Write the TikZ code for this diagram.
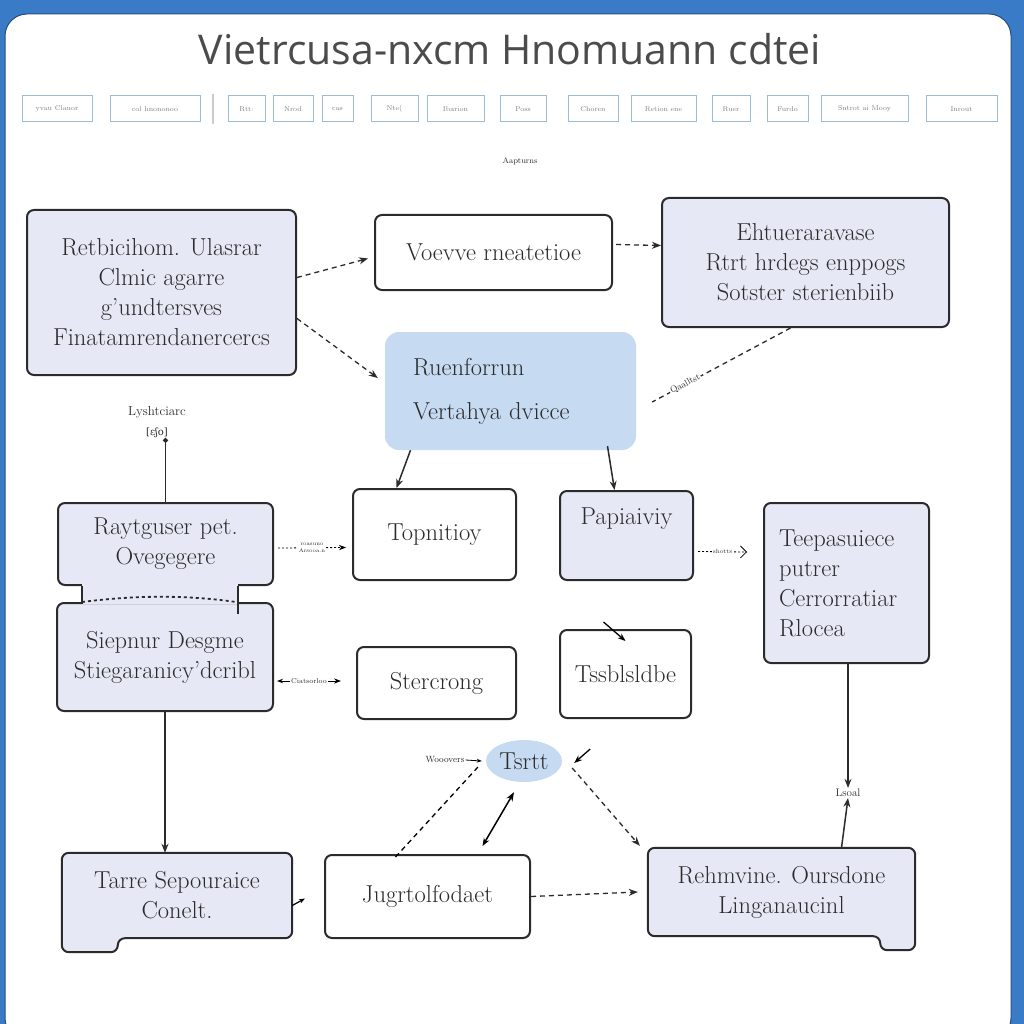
\documentclass[tikz,border=0pt]{standalone}
\usepackage{fontspec}
\newfontfamily\titlefont{Open Sans}
\newfontfamily\ipafont{DejaVu Serif}
\usetikzlibrary{arrows.meta,positioning,shapes.geometric,backgrounds}
\definecolor{frameblue}{HTML}{3A7BC8}
\definecolor{lav}{HTML}{E6E9F5}
\definecolor{paleblue}{HTML}{C6DAF1}
\definecolor{ink}{HTML}{2B2B2B}
\definecolor{toolline}{HTML}{9DBBD2}

\begin{document}
\begin{tikzpicture}[
    x=1pt, y=-1pt,
    every node/.style={font=\fontsize{24.5}{30}\selectfont, text=ink},
    box/.style={draw=ink, line width=2pt, rounded corners=7pt, align=center, fill=lav, inner sep=0pt},
    plain/.style={box, fill=white},
    soft/.style={fill=paleblue, rounded corners=14pt, inner sep=0pt},
    tabbox/.style={draw=ink, line width=2pt, fill=lav, rounded corners=7pt},
    tool/.style={draw=toolline, line width=1pt, inner sep=0pt, minimum height=26pt, font=\fontsize{7}{8}\selectfont, text=gray},
    tiny/.style={font=\fontsize{7}{8}\selectfont, inner sep=1pt, fill=white},
    flow/.style={-{Stealth[length=9pt,width=7pt]}, line width=1.5pt, draw=ink},
    feedback/.style={-{Stealth[length=9pt,width=7pt]}, line width=1.3pt, dash pattern=on 5pt off 4pt, draw=ink}
]
\useasboundingbox (0,0) rectangle (1024,1024);

% title and toolbar
\node[font=\titlefont\fontsize{41}{48}\selectfont, text=ink!85] (title) at (510,49) {Vietrcusa-nxcm Hnomuann cdtei};
\foreach \xa/\xb/\lbl in {22/92/yvau Clauor, 110/200/col hnononoo, 228/265/Rtt:, 273/313/Nrod, 322/353/cas,
    371/418/Nte(, 427/484/Ibarion, 500/546/Poss, 568/618/Choren, 631/696/Retion ene, 712/750/Ruer,
    767/808/Furdo, 821/908/Sntrot ai Mooy, 926/997/Inrout}
  \node[tool, minimum width={\xb-\xa}, name=tb\xa] at ({(\xa+\xb)/2},109) {\lbl};
\node[tiny, font=\fontsize{8}{9}\selectfont] (aap) at (520,161) {Aapturns};

% boxes
\node[box, minimum width=269pt, minimum height=165pt] (retbic) at (161.5,292.5) {Retbicihom. Ulasrar\\Clmic agarre\\g'undtersves\\Finatamrendanercercs};
\node[plain, minimum width=237pt, minimum height=75pt] (voevve) at (493.5,252.5) {Voevve rneatetioe};
\node[box, minimum width=287pt, minimum height=129pt] (ehtuer) at (805.5,262.5) {Ehtueraravase\\Rtrt hrdegs enppogs\\Sotster sterienbiib};
\node[soft, minimum width=251pt, minimum height=118pt, align=left, text width=195pt] (ruen) at (510.5,391) {Ruenforrun\\[14pt]Vertahya dvicce};
\node[font=\fontsize{13}{20}\selectfont, align=center, inner sep=0pt] (lysh) at (157,422) {Lyshtciarc\\{\ipafont\fontsize{10}{12}\selectfont[ɛʃo]}};

\node[box, minimum width=215pt, minimum height=82pt] (rayt) at (165.5,544) {Raytguser pet.\\Ovegegere};
\node[box, minimum width=216pt, minimum height=108pt] (siepnur) at (165,657) {Siepnur Desgme\\Stiegaranicy'dcribl};
\node[plain, minimum width=163pt, minimum height=91pt] (topni) at (434.5,534.5) {Topnitioy};
\node[box, minimum width=133pt, minimum height=89pt] (papia) at (626.5,535.5) {Papiaiviy\\[8pt]};
\node[box, minimum width=165pt, minimum height=160pt, align=left, text width=135pt] (teepa) at (846.5,583) {Teepasuiece\\putrer\\Cerrorratiar\\Rlocea};
\node[plain, minimum width=159pt, minimum height=72pt] (sterc) at (436.5,683) {Stercrong};
\node[plain, minimum width=131pt, minimum height=88pt] (tssbl) at (625.5,674) {Tssblsldbe};

\node[ellipse, fill=paleblue, minimum width=76pt, minimum height=42pt, inner sep=0pt] (tsrtt) at (524,761) {Tsrtt};
\node[tiny, font=\fontsize{9}{10}\selectfont] (woo) at (445,760) {Wooovers};
\node[tiny, font=\fontsize{11}{12}\selectfont] (lsoal) at (848,793) {Lsoal};

\node[minimum width=230pt, minimum height=85pt, align=center, inner sep=0pt] (tarre) at (177,895.5) {Tarre Sepouraice\\Conelt.};
\node[plain, minimum width=205pt, minimum height=83pt] (jugrt) at (427.5,896.5) {Jugrtolfodaet};
\node[minimum width=267pt, minimum height=88pt, align=center, inner sep=0pt] (rehm) at (781.5,892) {Rehmvine. Oursdone\\Linganaucinl};

% neck between the two joined boxes
\fill[lav] ([xshift=25,yshift=2]rayt.south west) rectangle ([xshift=-36,yshift=-2]siepnur.north east);
\draw[line width=2pt, draw=ink] ([xshift=25]rayt.south west) -- ++(0,18);
\draw[line width=2pt, draw=ink] ([xshift=-36]rayt.south east) -- ++(0,28);
\draw[line width=1.8pt, draw=ink, dashed] ([xshift=25,yshift=-16]rayt.south west) .. controls ([xshift=80,yshift=-9]rayt.south west) and ([xshift=130,yshift=-9]rayt.south west) .. ([xshift=-38,yshift=-16]rayt.south east);

% connectors
\draw[feedback] ([yshift=15]retbic.east) -- ([xshift=-6,yshift=-6]voevve.west);
\draw[feedback] ([yshift=-26]retbic.east) -- ([xshift=-7,yshift=13]ruen.west);
\draw[feedback] ([xshift=3,yshift=8]voevve.east) -- ([yshift=17]ehtuer.west);
\draw[line width=1.3pt, dash pattern=on 5pt off 4pt, draw=ink] ([xshift=-15]ehtuer.south) -- node[pos=0.76, sloped, tiny, font=\fontsize{9}{10}\selectfont] {Qaalltst} ([xshift=16,yshift=-11]ruen.east);
\draw[flow] ([xshift=-100]ruen.south) -- ([xshift=-38]topni.north);
\draw[flow] ([xshift=97,yshift=4]ruen.south) -- ([xshift=-12]papia.north);
\draw[line width=1.5pt, draw=ink, -{Circle[length=5pt]}] (rayt.north) -- (rayt.north |- lysh.south);
\draw[line width=0.8pt, dash pattern=on 2pt off 2pt, -{Stealth[length=7pt]}] ([xshift=4,yshift=-4]rayt.east) -- node[tiny, align=center, font=\fontsize{5.5}{6.5}\selectfont] {roasuno\\Arsooa.n} ([xshift=-6,yshift=-13]topni.west);
\draw[line width=0.8pt, dash pattern=on 2pt off 2pt, -{Straight Barb[length=6pt]}] ([xshift=4,yshift=-16]papia.east) -- node[tiny, font=\fontsize{6}{7}\selectfont] {shotts} ([xshift=-16,yshift=31]teepa.west);
\draw[line width=1pt, {Stealth[length=6pt]}-{Stealth[length=7pt]}] ([xshift=3,yshift=-24]siepnur.east) -- node[tiny, font=\fontsize{7}{8}\selectfont] {Ciatsorloo} ([xshift=-15,yshift=2]sterc.west);
\draw[line width=1.3pt, -{Stealth[length=8pt]}] ([xshift=-22,yshift=7]tssbl.north) -- ([yshift=-12]tssbl.north);
\draw[flow] (siepnur.south) -- ([xshift=-12]tarre.north);
\draw[flow] ([xshift=1.5]teepa.south) -- (lsoal.north);
\draw[flow] ([xshift=60]rehm.north) -- (lsoal.south);
\draw[feedback] (jugrt.east) -- ([xshift=-10]rehm.west);
\draw[line width=1.5pt, {Stealth[length=8pt]}-{Stealth[length=9pt]}] ([xshift=55,yshift=8]jugrt.north) -- ([xshift=-10,yshift=-10]tsrtt.south);
\draw[line width=1.3pt, dash pattern=on 5pt off 4pt] ([xshift=-32,yshift=-3]jugrt.north) -- ([xshift=-6,yshift=-4]tsrtt.west);
\draw[line width=0.8pt, -{Stealth[length=5pt]}] (woo.east) -- ([xshift=-4]tsrtt.west);
\draw[feedback] ([xshift=10,yshift=-7]tsrtt.east) -- ([xshift=-8,yshift=2]rehm.north west);
\draw[line width=1.3pt, -{Stealth[length=8pt]}] ([xshift=28,yshift=12]tsrtt.east) -- ([xshift=12,yshift=-2]tsrtt.east);
\draw[line width=1.2pt, -{Stealth[length=6pt]}] ([yshift=-10]tarre.east) -- ([xshift=-19,yshift=-2]jugrt.west);

\begin{scope}[on background layer]
  \fill[frameblue] (0,0) rectangle (1024,1024);
  \draw[fill=white, draw=frameblue!60!black, line width=1pt, rounded corners=22pt] (5,14) rectangle (1011,1040);
  \draw[draw=gray!40, line width=1.5pt] (213,94) -- (213,124);
  % boxes with a tab
  \draw[tabbox] (tarre.north west) -- (tarre.north east) -- (tarre.south east) -- ([xshift=56]tarre.south west)
      -- ([xshift=56,yshift=-14]tarre.south west) -- ([yshift=-14]tarre.south west) -- cycle;
  \draw[tabbox] (rehm.north west) -- (rehm.north east) -- ([yshift=-14]rehm.south east) -- ([xshift=-35,yshift=-14]rehm.south east)
      -- ([xshift=-35]rehm.south east) -- (rehm.south west) -- cycle;
\end{scope}
\end{tikzpicture}
\end{document}
